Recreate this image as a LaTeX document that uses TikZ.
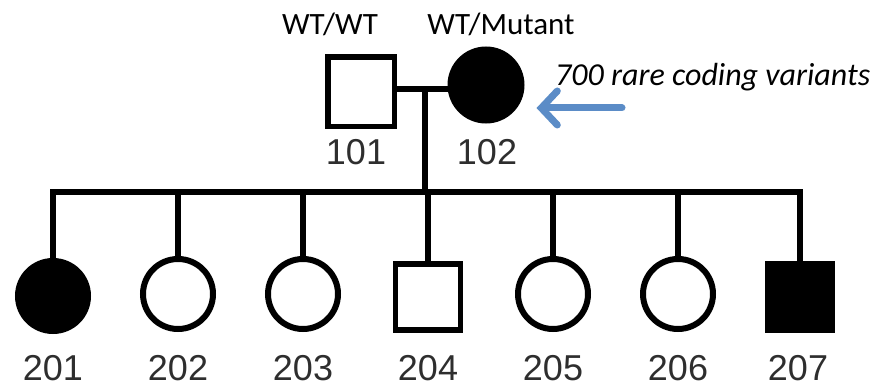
\documentclass[tikz,border=0pt]{standalone}
\usepackage{fontspec}
\setmainfont{Liberation Sans}
\newfontfamily\calib{Carlito}
\usetikzlibrary{arrows.meta}
\definecolor{arrowblue}{HTML}{5B8CC7}
\definecolor{labgray}{HTML}{2E2E2E}
\tikzset{
  male/.style={rectangle, draw=black, line width=5.5pt, minimum width=65pt, minimum height=66pt, inner sep=0pt},
  female/.style={circle, draw=black, line width=6pt, minimum size=70pt, inner sep=0pt},
  affected/.style={fill=black},
  unaffected/.style={fill=white},
  idlabel/.style={font=\fontsize{36}{40}\selectfont, text=labgray, inner sep=0pt, text depth=0pt},
  gtlabel/.style={font=\calib\fontsize{31}{34}\selectfont, inner sep=0pt},
  notelabel/.style={font=\calib\itshape\fontsize{32}{36}\selectfont, inner sep=0pt},
  link/.style={line width=5.5pt, line join=miter},
  notearrow/.style={draw=arrowblue, line width=7pt, line cap=round, -{Straight Barb[length=16pt, width=34pt, line cap=round]}}
}
\begin{document}
\begin{tikzpicture}[x=1pt, y=-1pt]
\useasboundingbox (0,0) rectangle (873,387);
% parents
\node[male, unaffected, minimum width=66.5pt, minimum height=69.5pt] (n101) at (361,92) {};
\node[female, affected, minimum size=71pt] (n102) at (486,85) {};
\coordinate (mid) at (425,89);
\coordinate (sib) at (425,192);
\draw[link] (n101.east |- mid) -- (mid -| n102.west);
\draw[link] (mid) -- (sib);
% children
\node[female, affected]   (n201) at (53,296) {};
\node[female, unaffected] (n202) at (178,294) {};
\node[female, unaffected] (n203) at (303,294) {};
\node[male, unaffected]   (n204) at (428,297) {};
\node[female, unaffected] (n205) at (553,294) {};
\node[female, unaffected] (n206) at (678,294) {};
\node[male, affected]     (n207) at (800,297) {};
\draw[link] (n201.north) -- (n201 |- sib) -- (n207 |- sib) -- (n207.north);
\foreach \c in {n202,n203,n204,n205,n206}
  \draw[link] (\c |- sib) -- (\c.north);
% id labels
\node[idlabel] (l101) at (356,152) {101};
\node[idlabel] (l102) at (487,152) {102};
\node[idlabel] (l201) at (53,368) {201};
\node[idlabel] (l202) at (178,368) {202};
\node[idlabel] (l203) at (303,368) {203};
\node[idlabel] (l204) at (428,368) {204};
\node[idlabel] (l205) at (553,368) {205};
\node[idlabel] (l206) at (678,368) {206};
\node[idlabel] (l207) at (798,368) {207};
% genotypes
\node[gtlabel] (g101) at (330,24) {WT/WT};
\node[gtlabel] (g102) at (501,24) {WT/Mutant};
% note
\node[notelabel, anchor=base west] (note) at (555,86) {700 rare coding variants};
\coordinate (tail) at (622,108);
\draw[notearrow, shorten >=12pt] (tail) -- (n102.east |- tail);
\end{tikzpicture}
\end{document}
